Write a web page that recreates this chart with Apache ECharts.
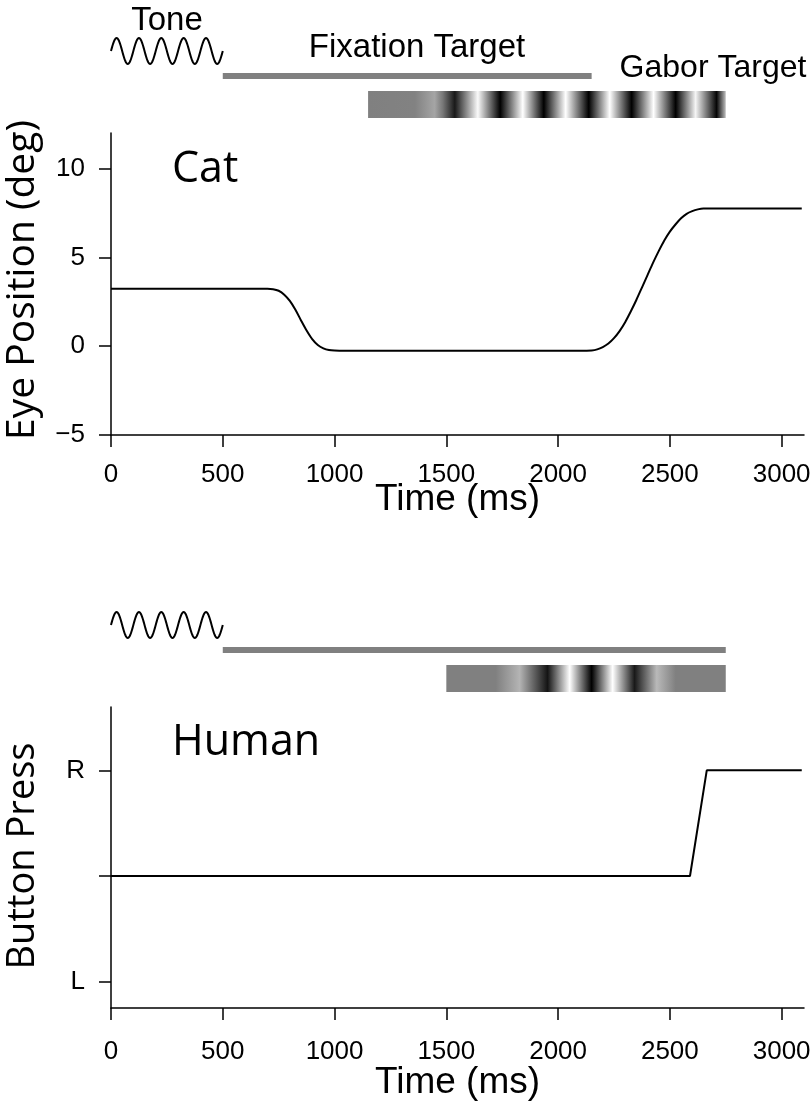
<!DOCTYPE html>
<html>
<head>
<meta charset="utf-8">
<script src="https://cdn.jsdelivr.net/npm/echarts@6/dist/echarts.min.js"></script>
<style>
  html, body { margin: 0; padding: 0; background: #fff; }
  #chart { width: 810px; height: 1116px; }
</style>
</head>
<body>
<div id="chart"></div>
<script>
// 时间刻度 (ms)
const timeTicks = [0, 500, 1000, 1500, 2000, 2500, 3000];

// 猫的眼位轨迹 (deg)
const catTime = [0, 700, 725, 750, 775, 800, 825, 850, 875, 900, 925, 950, 975, 1000, 1050,
  2100, 2150, 2175, 2200, 2225, 2250, 2275, 2300, 2325, 2350, 2375, 2400, 2425, 2450,
  2475, 2500, 2525, 2550, 2575, 2600, 2625, 2650, 3090];
const catPos = [3.23, 3.23, 3.21, 3.12, 2.9, 2.55, 2.05, 1.45, 0.88, 0.4, 0.07, -0.12, -0.22, -0.25, -0.26,
  -0.26, -0.24, -0.18, -0.05, 0.15, 0.45, 0.85, 1.35, 1.95, 2.6, 3.3, 4.0, 4.7, 5.35,
  5.95, 6.45, 6.85, 7.2, 7.45, 7.6, 7.7, 7.75, 7.75];

// 人的按键轨迹 (0 = 未按, 1 = R, -1 = L)
const humanTime = [0, 2590, 2665, 3090];
const humanPress = [0, 0, 1, 1];

// y 轴刻度
const catYTicks = [-5, 0, 5, 10];
const humanYTicks = [-1, 0, 1];
const humanYLabels = ['L', '', 'R'];

// 刺激时间 (ms)
const toneSpan = [0, 500];
const toneCycles = 5;
const fixationCat = [500, 2150];
const fixationHuman = [500, 2750];
const gaborCat = [1150, 2750];
const gaborHuman = [1500, 2750];

// Gabor 亮度剖面 (0 黑 - 255 白)
const gaborCatTime = [1150, 1360, 1448, 1484, 1538, 1641, 1741, 1842, 1936, 2034, 2137,
  2231, 2329, 2427, 2526, 2615, 2709, 2750];
const gaborCatGray = [128, 130, 165, 120, 25, 250, 0, 255, 0, 255, 0,
  255, 0, 255, 0, 245, 5, 190];
const gaborHumanTime = [1500, 1721, 1828, 1953, 2052, 2150, 2244, 2342, 2441, 2526, 2750];
const gaborHumanGray = [128, 128, 180, 20, 255, 0, 255, 25, 185, 128, 128];

const LABEL_FONT = '"Liberation Sans", Arial, sans-serif';
const TITLE_FONT = '"Open Sans", "Noto Sans", sans-serif';

const chart = echarts.init(document.getElementById('chart'));

function zip(a, b) {
  return a.map((v, i) => [v, b[i]]);
}

function gaborStops(times, grays, span) {
  return times.map((t, i) => ({
    offset: (t - span[0]) / (span[1] - span[0]),
    color: 'rgb(' + grays[i] + ',' + grays[i] + ',' + grays[i] + ')'
  }));
}

// 在坐标系上方画刺激示意
function stimSeries(gridIdx, kind, span, stops) {
  return {
    type: 'custom',
    xAxisIndex: gridIdx,
    yAxisIndex: gridIdx,
    clip: false,
    silent: true,
    data: [span],
    encode: { x: [0, 1] },
    renderItem: function (params, api) {
      const x0 = api.coord([api.value(0), 0])[0];
      const x1 = api.coord([api.value(1), 0])[0];
      const top = params.coordSys.y;
      if (kind === 'tone') {
        const cy = top - 82;
        const amp = 13;
        const n = 240;
        const pts = [];
        for (let k = 0; k <= n; k++) {
          pts.push([x0 + (x1 - x0) * k / n, cy - amp * Math.sin(2 * Math.PI * toneCycles * k / n)]);
        }
        return {
          type: 'polyline',
          shape: { points: pts },
          style: { stroke: '#000', lineWidth: 2, fill: null }
        };
      }
      if (kind === 'fixation') {
        return {
          type: 'rect',
          shape: { x: x0, y: top - 60, width: x1 - x0, height: 6 },
          style: { fill: '#808080' }
        };
      }
      return {
        type: 'rect',
        shape: { x: x0, y: top - 42, width: x1 - x0, height: 27 },
        style: { fill: new echarts.graphic.LinearGradient(0, 0, 1, 0, stops) }
      };
    }
  };
}

function makeXAxis(gridIdx, labelMargin, nameGap) {
  return {
    type: 'value',
    gridIndex: gridIdx,
    min: 0,
    max: 3100,
    name: 'Time (ms)',
    nameLocation: 'middle',
    nameGap: nameGap,
    nameMoveOverlap: false,
    nameTextStyle: { fontFamily: LABEL_FONT, fontSize: 37, color: '#000' },
    axisLine: { onZero: false, lineStyle: { color: '#000', width: 1.5 } },
    axisTick: { length: 12, customValues: timeTicks, lineStyle: { color: '#000', width: 1.5 } },
    axisLabel: {
      customValues: timeTicks,
      margin: labelMargin,
      fontFamily: LABEL_FONT,
      fontSize: 26,
      color: '#000',
      hideOverlap: false,
      formatter: v => String(v)
    },
    splitLine: { show: false }
  };
}

function makeYAxis(gridIdx, min, max, ticks, formatter) {
  return {
    type: 'value',
    gridIndex: gridIdx,
    min: min,
    max: max,
    axisLine: { show: true, onZero: false, lineStyle: { color: '#000', width: 1.5 } },
    axisTick: { show: true, length: 12, customValues: ticks, lineStyle: { color: '#000', width: 1.5 } },
    axisLabel: {
      customValues: ticks,
      margin: 26,
      fontFamily: LABEL_FONT,
      fontSize: 26,
      color: '#000',
      formatter: formatter
    },
    splitLine: { show: false }
  };
}

function textItem(txt, x, y, font, align, rotation) {
  return {
    type: 'text',
    x: x,
    y: y,
    rotation: rotation || 0,
    style: { text: txt, font: font, fill: '#000', textAlign: align, textVerticalAlign: 'middle' }
  };
}

const option = {
  backgroundColor: '#fff',
  animation: false,
  grid: [
    { left: 111, top: 133, width: 693, height: 302, outerBoundsMode: 'none', containLabel: false },
    { left: 111, top: 707, width: 693, height: 301, outerBoundsMode: 'none', containLabel: false }
  ],
  xAxis: [makeXAxis(0, 27, 46), makeXAxis(1, 31, 56)],
  yAxis: [
    makeYAxis(0, -5, 12, catYTicks, v => (v < 0 ? '\u2212' + Math.abs(v) : String(v))),
    makeYAxis(1, -1.25, 1.6, humanYTicks, v => humanYLabels[humanYTicks.indexOf(Math.round(v))] || '')
  ],
  graphic: [
    textItem('Tone', 167, 21, '33px ' + LABEL_FONT, 'center'),
    textItem('Fixation Target', 417, 48, '33px ' + LABEL_FONT, 'center'),
    textItem('Gabor Target', 713, 68, '32px ' + LABEL_FONT, 'center'),
    textItem('Cat', 172, 170, '43px ' + TITLE_FONT, 'left'),
    textItem('Human', 172, 743, '43px ' + TITLE_FONT, 'left'),
    textItem('Eye Position (deg)', 23, 280, '39px ' + TITLE_FONT, 'center', Math.PI / 2),
    textItem('Button Press', 23, 856, '38px ' + TITLE_FONT, 'center', Math.PI / 2)
  ],
  series: [
    {
      type: 'line',
      xAxisIndex: 0,
      yAxisIndex: 0,
      data: zip(catTime, catPos),
      showSymbol: false,
      smooth: 0.3,
      lineStyle: { color: '#000', width: 2 }
    },
    {
      type: 'line',
      xAxisIndex: 1,
      yAxisIndex: 1,
      data: zip(humanTime, humanPress),
      showSymbol: false,
      lineStyle: { color: '#000', width: 2 }
    },
    stimSeries(0, 'tone', toneSpan),
    stimSeries(0, 'fixation', fixationCat),
    stimSeries(0, 'gabor', gaborCat, gaborStops(gaborCatTime, gaborCatGray, gaborCat)),
    stimSeries(1, 'tone', toneSpan),
    stimSeries(1, 'fixation', fixationHuman),
    stimSeries(1, 'gabor', gaborHuman, gaborStops(gaborHumanTime, gaborHumanGray, gaborHuman))
  ]
};

chart.setOption(option);
</script>
</body>
</html>
